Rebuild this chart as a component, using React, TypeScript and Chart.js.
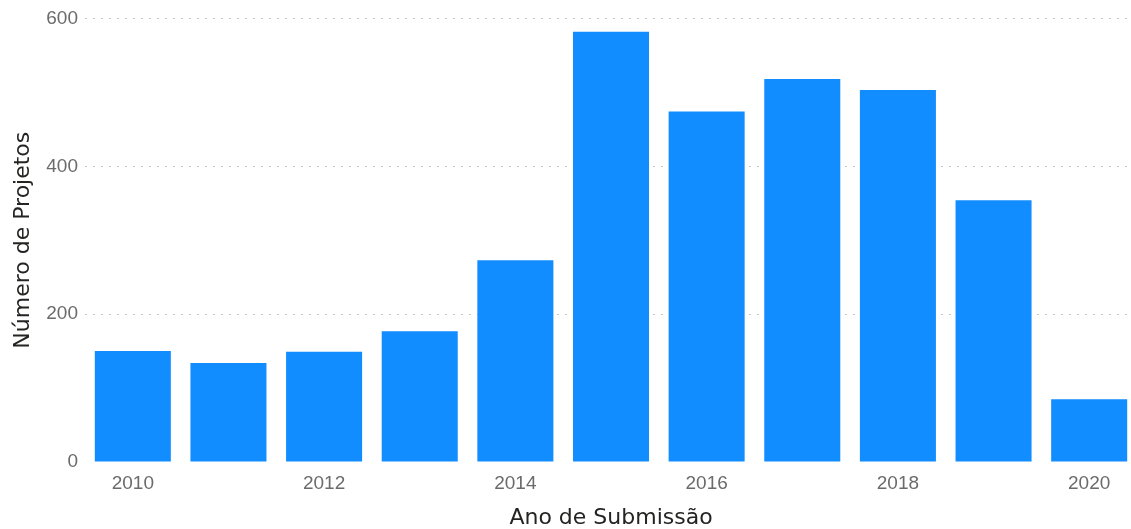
import React, { useEffect, useRef } from "react";
import { Chart, registerables } from "chart.js";

Chart.register(...registerables);

const years = ["2010", "2011", "2012", "2013", "2014", "2015", "2016", "2017", "2018", "2019", "2020"];
const projetos = [150, 134, 149, 177, 273, 582, 474, 518, 503, 354, 85];
const yTicks = [0, 200, 400, 600];

const TITLE_FONT = "'DejaVu Sans', sans-serif";
const TICK_FONT = "'Liberation Sans', Arial, sans-serif";

export default function App() {
  const ref = useRef<HTMLCanvasElement | null>(null);

  useEffect(() => {
    document.body.style.margin = "0";
    document.body.style.overflow = "hidden";
    const chart = new Chart(ref.current!, {
      type: "bar",
      data: {
        labels: years,
        datasets: [
          {
            label: "Número de Projetos",
            data: projetos,
            backgroundColor: "#118DFF",
            borderWidth: 0,
            categoryPercentage: 1,
            barPercentage: 0.795,
          },
        ],
      },
      options: {
        animation: false,
        responsive: true,
        maintainAspectRatio: false,
        layout: { padding: { top: 17, right: 3, left: 0, bottom: 0 } },
        plugins: { legend: { display: false }, tooltip: { enabled: false } },
        scales: {
          x: {
            grid: { display: false, drawTicks: false },
            border: { display: false },
            ticks: {
              autoSkip: false,
              maxRotation: 0,
              padding: 10,
              color: "#6b6b6b",
              font: { family: TICK_FONT, size: 19 },
              callback: (_v: any, i: number) => (i % 2 === 0 ? years[i] : ""),
            },
            title: {
              display: true,
              text: "Ano de Submissão",
              color: "#252423",
              font: { family: TITLE_FONT, size: 22, lineHeight: 1 },
              padding: { top: 0, bottom: 0 },
            },
            afterFit: (scale: any) => {
              scale.height = 67;
            },
          },
          y: {
            min: 0,
            max: 600,
            afterBuildTicks: (scale: any) => {
              scale.ticks = yTicks.map((v) => ({ value: v }));
            },
            grid: {
              drawTicks: false,
              color: (ctx: any) => (ctx.tick && ctx.tick.value === 0 ? "rgba(0,0,0,0)" : "#c8c6c4"),
              lineWidth: 1,
            },
            border: { display: false, dash: [2, 6] },
            ticks: {
              padding: 7,
              color: "#6b6b6b",
              font: { family: TICK_FONT, size: 19 },
            },
            title: {
              display: true,
              text: "Número de Projetos",
              color: "#252423",
              font: { family: TITLE_FONT, size: 22, lineHeight: 1 },
              padding: { top: 12, bottom: 0 },
            },
            afterFit: (scale: any) => {
              scale.width = 85;
            },
          },
        },
      },
    });
    return () => chart.destroy();
  }, []);

  return (
    <div style={{ position: "fixed", left: 0, top: 0, width: 1140, height: 529 }}>
      <canvas ref={ref} />
    </div>
  );
}
